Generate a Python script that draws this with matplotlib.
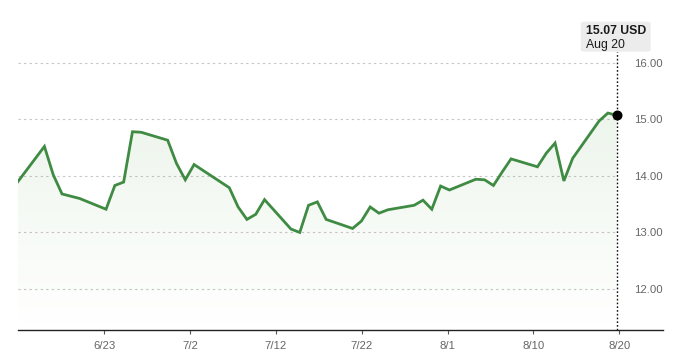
import matplotlib
matplotlib.use("Agg")
import matplotlib.pyplot as plt
import matplotlib.dates as mdates
from matplotlib.patches import FancyBboxPatch
import numpy as np
import datetime as dt

plt.rcParams['font.family'] = ['Liberation Sans', 'DejaVu Sans']

# ---- data ----
dates = ["2025-06-13", "2025-06-16", "2025-06-17", "2025-06-18", "2025-06-20",
         "2025-06-23", "2025-06-24", "2025-06-25", "2025-06-26", "2025-06-27",
         "2025-06-30", "2025-07-01", "2025-07-02", "2025-07-03", "2025-07-07",
         "2025-07-08", "2025-07-09", "2025-07-10", "2025-07-11", "2025-07-14",
         "2025-07-15", "2025-07-16", "2025-07-17", "2025-07-18", "2025-07-21",
         "2025-07-22", "2025-07-23", "2025-07-24", "2025-07-25", "2025-07-28",
         "2025-07-29", "2025-07-30", "2025-07-31", "2025-08-01", "2025-08-04",
         "2025-08-05", "2025-08-06", "2025-08-07", "2025-08-08", "2025-08-11",
         "2025-08-12", "2025-08-13", "2025-08-14", "2025-08-15", "2025-08-18",
         "2025-08-19", "2025-08-20"]
prices = [13.90, 14.52, 14.02, 13.68, 13.60,
          13.41, 13.83, 13.89, 14.78, 14.77,
          14.63, 14.22, 13.93, 14.20, 13.79,
          13.45, 13.23, 13.32, 13.58, 13.06,
          13.00, 13.48, 13.54, 13.23, 13.07,
          13.20, 13.45, 13.34, 13.40, 13.48,
          13.57, 13.41, 13.82, 13.75, 13.94,
          13.93, 13.83, 14.07, 14.30, 14.16,
          14.40, 14.58, 13.91, 14.31, 14.97,
          15.11, 15.07]
x_tick_labels = ["6/23", "7/2", "7/12", "7/22", "8/1", "8/10", "8/20"]
y_ticks = [12, 13, 14, 15, 16]
y_tick_labels = ["12.00", "13.00", "14.00", "15.00", "16.00"]
tooltip_value = "15.07 USD"
tooltip_date = "Aug 20"

# ---- figure ----
W, H = 680, 356
fig = plt.figure(figsize=(W / 100, H / 100), dpi=100)
ax_left, ax_right, ax_bottom, ax_top = 18, 662.7, 330, 10
ax = fig.add_axes([ax_left / W, 1 - ax_bottom / H,
                   (ax_right - ax_left) / W, (ax_bottom - ax_top) / H])

x = mdates.date2num([dt.datetime.strptime(d, "%Y-%m-%d") for d in dates])
y = np.array(prices)

px_per_day = (616.7 - 18) / (x[-1] - x[0])
px_per_unit = 56.575
xmin = x[0]
xmax = x[0] + (ax_right - ax_left) / px_per_day
ymin = 16 - (ax_bottom - 62.7) / px_per_unit
ymax = 16 + (62.7 - ax_top) / px_per_unit
ax.set_xlim(xmin, xmax)
ax.set_ylim(ymin, ymax)

# gridlines (stop at the last data point)
for v in y_ticks:
    ax.plot([xmin, x[-1]], [v, v], color="#c4c4c4", lw=0.8,
            linestyle=(0, (2, 3)), zorder=1)

# gradient fill under the line
line_color = "#3f8b43"
fill = ax.fill_between(x, y, ymin, color="none", lw=0, zorder=2)
grad = np.zeros((256, 1, 4))
rgb = matplotlib.colors.to_rgb("#5aa54f")
grad[:, 0, 0] = rgb[0]
grad[:, 0, 1] = rgb[1]
grad[:, 0, 2] = rgb[2]
grad[:, 0, 3] = np.linspace(0.11, 0.0, 256)
im = ax.imshow(grad, aspect="auto", origin="upper",
               extent=[x[0], x[-1], ymin, y.max()], zorder=2,
               interpolation="bilinear")
im.set_clip_path(fill.get_paths()[0], transform=ax.transData)

ax.plot(x, y, color=line_color, lw=2.0, solid_joinstyle="miter", zorder=3)

# vertical dotted marker line & point
ax.plot([x[-1], x[-1]], [ymin, 16 + (62.7 - 52) / px_per_unit],
        color="#111111", lw=1.0, linestyle=(0, (1.2, 1.5)), zorder=4,
        clip_on=False)
ax.scatter([x[-1]], [y[-1]], s=38, color="black", zorder=5)

# axes styling
for s in ["top", "right", "left"]:
    ax.spines[s].set_visible(False)
ax.spines["bottom"].set_color("#222222")
ax.spines["bottom"].set_linewidth(1.0)

t0 = mdates.date2num(dt.datetime(2025, 6, 22, 18, 30))
t1 = mdates.date2num(dt.datetime(2025, 8, 20, 7, 12))
ax.set_xticks(np.linspace(t0, t1, len(x_tick_labels)))
ax.set_xticklabels(x_tick_labels)
ax.tick_params(axis="x", length=3, width=0.8, color="#555555",
               labelsize=8.2, labelcolor="#666666", pad=5)

ax.set_yticks(y_ticks)
ax.set_yticklabels(y_tick_labels)
ax.yaxis.tick_right()
ax.tick_params(axis="y", length=0, labelsize=8.2, labelcolor="#666666", pad=0)
for lab in ax.get_yticklabels():
    lab.set_horizontalalignment("right")

# tooltip
bx0, bx1, by0, by1 = 580.7, 650.7, 21.7, 51.7
box = FancyBboxPatch((bx0 / W, 1 - by1 / H), (bx1 - bx0) / W, (by1 - by0) / H,
                     boxstyle="round,pad=0,rounding_size=0.006",
                     transform=fig.transFigure, facecolor="#ececec",
                     edgecolor="none", zorder=10)
fig.patches.append(box)
fig.text(586.5 / W, 1 - 34.3 / H, tooltip_value, fontsize=8.8,
         fontweight="bold", color="#1a1a1a", va="baseline", ha="left",
         zorder=11)
fig.text(586.5 / W, 1 - 47.8 / H, tooltip_date, fontsize=8.8,
         color="#1a1a1a", va="baseline", ha="left", zorder=11)

fig.savefig("out.png", dpi=100)
